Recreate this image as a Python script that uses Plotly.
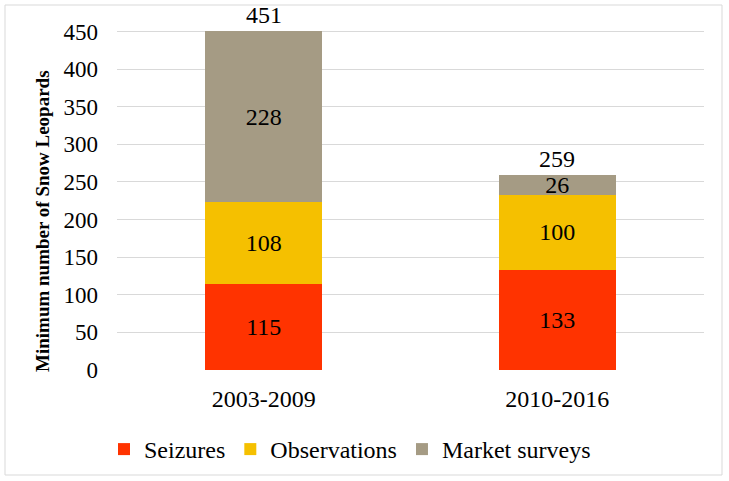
import plotly.graph_objects as go

periods = ["2003-2009", "2010-2016"]
seizures = [115, 133]
observations = [108, 100]
market_surveys = [228, 26]
series_names = ["Seizures", "Observations", "Market surveys"]
colors = ["#FF3300", "#F5C000", "#A59B84"]
y_ticks = [0, 50, 100, 150, 200, 250, 300, 350, 400, 450]

FONT = "Liberation Serif, Times New Roman, serif"

fig = go.Figure()
for name, vals, col in zip(series_names, [seizures, observations, market_surveys], colors):
    fig.add_trace(go.Bar(
        x=periods, y=vals, name=name, marker=dict(color=col, line=dict(width=0)),
        text=[str(v) for v in vals], textposition="inside", insidetextanchor="middle",
        constraintext="none", textangle=0,
        textfont=dict(family=FONT, size=24, color="black"),
        hoverinfo="skip",
    ))

totals = [a + b + c for a, b, c in zip(seizures, observations, market_surveys)]
for p, t in zip(periods, totals):
    fig.add_annotation(x=p, y=t, xref="x", yref="y", text=str(t), showarrow=False,
                       yanchor="bottom", yshift=1,
                       font=dict(family=FONT, size=24, color="black"))

L, R, T, B = 117, 25, 30, 111
W, H = 729, 481
pw, ph = W - L - R, H - T - B

def px_x(x):
    return (x - L) / pw

def px_y(y):
    return (H - B - y) / ph

fig.add_annotation(text="<b>Minimum number of Snow Leopards</b>", textangle=-90,
                   xref="paper", yref="paper", x=px_x(42), y=px_y(221),
                   xanchor="center", yanchor="middle",
                   showarrow=False, font=dict(family=FONT, size=19, color="black"))

fig.add_shape(type="rect", xref="paper", yref="paper",
              x0=px_x(5), x1=px_x(722), y0=px_y(475), y1=px_y(5),
              line=dict(color="#D9D9D9", width=1), fillcolor="rgba(0,0,0,0)", layer="below")

fig.update_layout(
    barmode="stack", bargap=0.6,
    width=W, height=H,
    margin=dict(l=L, r=R, t=T, b=B, autoexpand=False),
    paper_bgcolor="white", plot_bgcolor="white",
    font=dict(family=FONT, size=24, color="black"),
    showlegend=True,
    legend=dict(orientation="h", x=px_x(104), y=px_y(427), xanchor="left", yanchor="top",
                font=dict(family=FONT, size=24, color="black"), traceorder="normal",
                itemwidth=30, bgcolor="rgba(0,0,0,0)"),
    xaxis=dict(showgrid=False, showline=False, ticks="", tickfont=dict(size=24),
               ticklabelstandoff=12),
    yaxis=dict(range=[0, 452], tickvals=y_ticks, showgrid=True, gridcolor="#D9D9D9",
               gridwidth=1, zeroline=False, showline=False, ticks="",
               tickfont=dict(size=23), ticklabelstandoff=18),
)

fig.write_html("out.html", config={"displayModeBar": False},
               post_script="document.body.style.margin='0';document.body.style.overflow='hidden';")
